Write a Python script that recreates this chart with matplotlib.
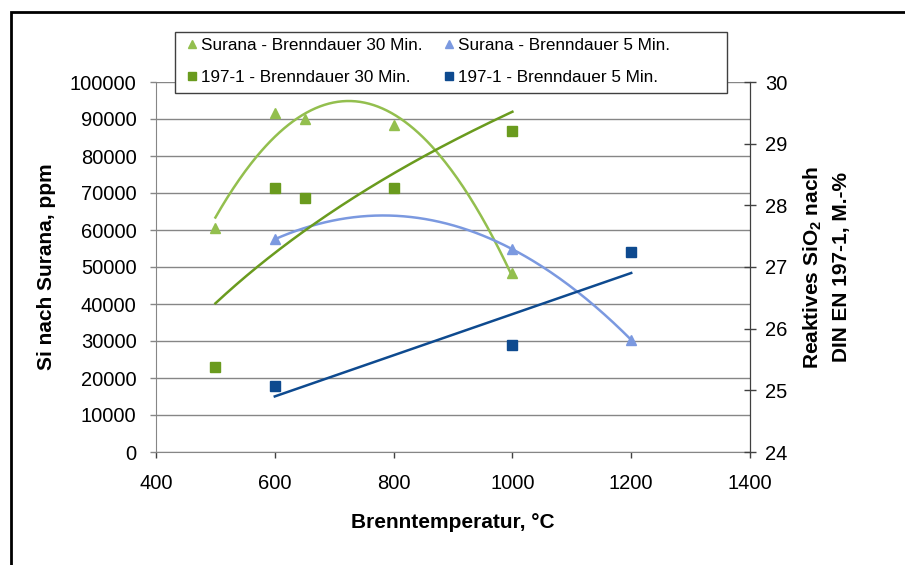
import numpy as np
import matplotlib.pyplot as plt
from matplotlib.patches import Rectangle

plt.rcParams['font.family'] = ['Liberation Sans', 'DejaVu Sans']
plt.rcParams['mathtext.fontset'] = 'custom'
plt.rcParams['mathtext.rm'] = 'Liberation Sans'
plt.rcParams['mathtext.bf'] = 'Liberation Sans:bold'

# Surana (left axis, ppm)
surana30_x = [500, 600, 650, 800, 1000]
surana30_y = [60500, 91500, 90000, 88300, 48300]
surana5_x = [600, 1000, 1200]
surana5_y = [57500, 54800, 30300]

# 197-1 (right axis, M.-%)
din30_x = [500, 600, 650, 800, 1000]
din30_y = [25.38, 28.28, 28.12, 28.28, 29.20]
din5_x = [600, 1000, 1200]
din5_y = [25.07, 25.73, 27.24]

c_s30 = '#93BF4E'
c_s5 = '#7B99E0'
c_d30 = '#6A9B1E'
c_d5 = '#0E4A8F'

fig = plt.figure(figsize=(9.05, 5.65), dpi=100)
ax = fig.add_axes([156/905, 1-452/565, (750-156)/905, (452-82)/565])
ax2 = ax.twinx()

# outer chart frame
fig.patches.append(Rectangle((11/905, -0.1), 1.2, 1 - 12/565 + 0.1, transform=fig.transFigure,
                             fill=False, edgecolor='black', linewidth=2))
# legend frame
fig.patches.append(Rectangle((175/905, 1-93/565), (727-175)/905, 61/565, transform=fig.transFigure,
                             fill=True, facecolor='white', edgecolor='#404040', linewidth=1,
                             zorder=5))

# trendlines (Excel style)
xs = np.linspace(500, 1000, 200)
ax.plot(xs, np.polyval(np.polyfit(surana30_x, surana30_y, 2), xs), color=c_s30, lw=1.8, zorder=3)
xs = np.linspace(600, 1200, 200)
ax.plot(xs, np.polyval(np.polyfit(surana5_x, surana5_y, 2), xs), color=c_s5, lw=1.8, zorder=3)
xs = np.linspace(500, 1000, 200)
b, a = np.polyfit(np.log(din30_x), din30_y, 1)
ax2.plot(xs, a + b*np.log(xs), color=c_d30, lw=1.8, zorder=3)
xs = np.linspace(600, 1200, 200)
ax2.plot(xs, np.polyval(np.polyfit(din5_x, din5_y, 1), xs), color=c_d5, lw=1.8, zorder=3)

# points
h1, = ax.plot(surana30_x, surana30_y, '^', color=c_s30, ms=7.5, ls='none', zorder=4,
              label='Surana - Brenndauer 30 Min.')
h2, = ax.plot(surana5_x, surana5_y, '^', color=c_s5, ms=7.5, ls='none', zorder=4,
              label='Surana - Brenndauer 5 Min.')
h3, = ax2.plot(din30_x, din30_y, 's', color=c_d30, ms=6.5, ls='none', zorder=4,
               label='197-1 - Brenndauer 30 Min.')
h4, = ax2.plot(din5_x, din5_y, 's', color=c_d5, ms=6.5, ls='none', zorder=4,
               label='197-1 - Brenndauer 5 Min.')

ax.set_xlim(400, 1400)
ax.set_ylim(0, 100000)
ax2.set_ylim(24, 30)
ax.set_xticks(np.arange(400, 1401, 200))
ax.set_yticks(np.arange(0, 100001, 10000))
ax2.set_yticks(np.arange(24, 31, 1))

ax.yaxis.grid(True, color='#868686', lw=1)
ax.set_axisbelow(True)

ax.spines['top'].set_visible(False)
ax2.spines['top'].set_visible(False)
ax.spines['left'].set_color('#868686')
ax.spines['bottom'].set_color('#868686')
ax2.spines['left'].set_visible(False)
ax2.spines['bottom'].set_visible(False)
ax2.spines['right'].set_color('#404040')

ax.tick_params(axis='both', labelsize=14.5, colors='black', length=4, width=1)
ax.tick_params(axis='y', color='#868686', pad=10)
ax.tick_params(axis='x', color='#404040', pad=12)
ax2.tick_params(axis='y', labelsize=14.5, direction='inout', length=8, width=1, color='#404040', pad=7)

ax.set_xlabel('Brenntemperatur, °C', fontsize=15, fontweight='bold', labelpad=14)
ax.set_ylabel('Si nach Surana, ppm', fontsize=15, fontweight='bold', labelpad=10)
ax2.set_ylabel('Reaktives SiO$_{\\mathbf{2}}$ nach\nDIN EN 197-1, M.-%', fontsize=15,
               fontweight='bold', labelpad=10, linespacing=1.55)

leg = fig.legend(handles=[h1, h3, h2, h4], ncol=2, loc='upper left',
                 bbox_to_anchor=(186/905, 1-38/565), fontsize=12.3, frameon=False,
                 borderaxespad=0, borderpad=0, handlelength=0.7, handletextpad=0.2,
                 columnspacing=1.17, labelspacing=1.02, markerscale=0.8)
leg.set_zorder(6)

fig.savefig('out.png', dpi=100)
